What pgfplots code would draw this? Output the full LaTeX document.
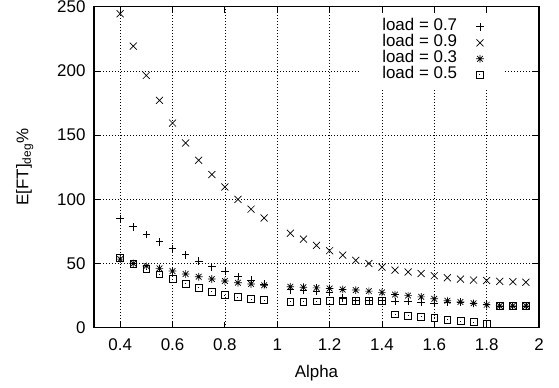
\documentclass[border=0pt]{standalone}
\usepackage{pgfplots}
\pgfplotsset{compat=1.18}
\usepackage{fontspec}
\setmainfont{Liberation Sans}

% gnuplot-like point types
\pgfdeclareplotmark{gpplus}{%
  \pgfpathmoveto{\pgfqpoint{-\pgfplotmarksize}{0pt}}%
  \pgfpathlineto{\pgfqpoint{\pgfplotmarksize}{0pt}}%
  \pgfpathmoveto{\pgfqpoint{0pt}{-\pgfplotmarksize}}%
  \pgfpathlineto{\pgfqpoint{0pt}{\pgfplotmarksize}}%
  \pgfusepathqstroke}
\pgfdeclareplotmark{gpcross}{%
  \pgfpathmoveto{\pgfqpoint{-\pgfplotmarksize}{-\pgfplotmarksize}}%
  \pgfpathlineto{\pgfqpoint{\pgfplotmarksize}{\pgfplotmarksize}}%
  \pgfpathmoveto{\pgfqpoint{-\pgfplotmarksize}{\pgfplotmarksize}}%
  \pgfpathlineto{\pgfqpoint{\pgfplotmarksize}{-\pgfplotmarksize}}%
  \pgfusepathqstroke}
\pgfdeclareplotmark{gpstar}{%
  \pgfpathmoveto{\pgfqpoint{-\pgfplotmarksize}{0pt}}%
  \pgfpathlineto{\pgfqpoint{\pgfplotmarksize}{0pt}}%
  \pgfpathmoveto{\pgfqpoint{0pt}{-\pgfplotmarksize}}%
  \pgfpathlineto{\pgfqpoint{0pt}{\pgfplotmarksize}}%
  \pgfpathmoveto{\pgfqpoint{-0.75\pgfplotmarksize}{-0.75\pgfplotmarksize}}%
  \pgfpathlineto{\pgfqpoint{0.75\pgfplotmarksize}{0.75\pgfplotmarksize}}%
  \pgfpathmoveto{\pgfqpoint{-0.75\pgfplotmarksize}{0.75\pgfplotmarksize}}%
  \pgfpathlineto{\pgfqpoint{0.75\pgfplotmarksize}{-0.75\pgfplotmarksize}}%
  \pgfusepathqstroke}
\pgfdeclareplotmark{gpbox}{%
  \pgfpathrectangle{\pgfqpoint{-\pgfplotmarksize}{-\pgfplotmarksize}}%
    {\pgfqpoint{2\pgfplotmarksize}{2\pgfplotmarksize}}%
  \pgfusepathqstroke
  \pgfpathrectangle{\pgfqpoint{-0.5bp}{-0.5bp}}{\pgfqpoint{1bp}{1bp}}%
  \pgfusepathqfill}

\pgfplotstableread{
x     y
0.40  85.0
0.45  78.6
0.50  72.6
0.55  66.9
0.60  61.7
0.65  56.8
0.70  51.9
0.75  47.5
0.80  43.8
0.85  40.0
0.90  37.0
0.95  34.0
1.05  29.5
1.10  29.0
1.15  28.5
1.20  27.5
1.25  23.0
1.30  21.0
1.35  21.0
1.40  21.0
1.45  20.5
1.50  20.5
1.55  20.0
1.60  19.0
1.65  20.0
1.70  19.5
1.75  19.0
1.80  18.0
1.85  17.0
1.90  17.0
1.95  17.0
}\loadseven

\pgfplotstableread{
x     y
0.40  244.5
0.45  219.3
0.50  196.5
0.55  177.0
0.60  159.4
0.65  143.9
0.70  130.4
0.75  119.3
0.80  109.6
0.85  100.0
0.90  92.3
0.95  85.5
1.05  73.6
1.10  69.0
1.15  64.2
1.20  60.0
1.25  56.5
1.30  52.5
1.35  50.0
1.40  47.2
1.45  44.9
1.50  43.4
1.55  42.2
1.60  40.5
1.65  38.9
1.70  37.9
1.75  37.1
1.80  36.7
1.85  36.0
1.90  35.8
1.95  35.4
}\loadnine

\pgfplotstableread{
x     y
0.40  53.4
0.45  50.0
0.50  48.0
0.55  46.2
0.60  44.1
0.65  41.8
0.70  39.7
0.75  37.9
0.80  36.3
0.85  35.0
0.90  34.0
0.95  33.0
1.05  31.9
1.10  31.5
1.15  31.0
1.20  30.5
1.25  29.8
1.30  29.3
1.35  28.5
1.40  27.5
1.45  25.8
1.50  25.0
1.55  24.0
1.60  22.5
1.65  21.0
1.70  20.0
1.75  19.0
1.80  17.8
1.85  17.0
1.90  17.0
1.95  17.0
}\loadthree

\pgfplotstableread{
x     y
0.40  54.7
0.45  50.0
0.50  45.6
0.55  41.5
0.60  37.9
0.65  34.2
0.70  31.1
0.75  28.0
0.80  25.4
0.85  23.9
0.90  22.3
0.95  21.5
1.05  20.2
1.10  20.3
1.15  20.5
1.20  20.8
1.25  21.0
1.30  21.0
1.35  21.0
1.40  21.0
1.45  10.4
1.50  9.4
1.55  8.6
1.60  7.8
1.65  6.2
1.70  5.2
1.75  4.4
1.80  2.9
1.85  17.0
1.90  17.0
1.95  17.0
}\loadfive

\begin{document}
\begin{tikzpicture}
\useasboundingbox (-94bp,-60.3bp) rectangle (465bp,327.7bp);
\begin{axis}[
  at={(0,0)}, anchor=south west,
  scale only axis, width=445bp, height=321bp,
  xmin=0.3, xmax=2, ymin=0, ymax=250,
  xtick={0.4,0.6,0.8,1,1.2,1.4,1.6,1.8,2},
  ytick={0,50,100,150,200,250},
  tick align=inside, major tick length=6bp,
  tick style={black, line width=0.8bp},
  axis line style={line width=1.1bp},
  grid=major,
  major grid style={black, line width=0.5bp, dash pattern=on 0.8bp off 2.2bp},
  /pgf/number format/assume math mode=true,
  ticklabel style={font=\fontsize{17}{19}\selectfont},
  xticklabel style={yshift=-7.5bp},
  yticklabel style={xshift=-5bp},
  label style={font=\fontsize{17}{19}\selectfont},
  xlabel={Alpha},
  ylabel={E[FT]\textsubscript{deg}\%},
  xlabel style={at={(axis description cs:0.5,-0.155)}, anchor=base},
  ylabel style={at={(axis description cs:-0.1476,0.5)}, anchor=base},
  legend plot pos=right,
  legend cell align=left,
  legend style={
    at={(axis description cs:0.598,0.98)}, anchor=north west,
    draw=none, fill=white,
    font=\fontsize{17}{19}\selectfont,
    inner xsep=20bp, inner ysep=5.5bp,
    row sep=0pt, column sep=17bp,
    nodes={inner ysep=0.5bp, text height=11.5bp, text depth=3.5bp},
  },
  legend image code/.code={%
    \draw[#1] plot coordinates {(0.3cm,0cm)};},
  every axis plot/.append style={only marks, black, line width=0.7bp, mark size=3.8bp},
]
\addplot[mark=gpplus]  table {\loadseven};
\addlegendentry{load = 0.7}
\addplot[mark=gpcross, mark size=3.5bp] table {\loadnine};
\addlegendentry{load = 0.9}
\addplot[mark=gpstar]  table {\loadthree};
\addlegendentry{load = 0.3}
\addplot[mark=gpbox, mark size=3.4bp] table {\loadfive};
\addlegendentry{load = 0.5}
\end{axis}
\end{tikzpicture}
\end{document}
